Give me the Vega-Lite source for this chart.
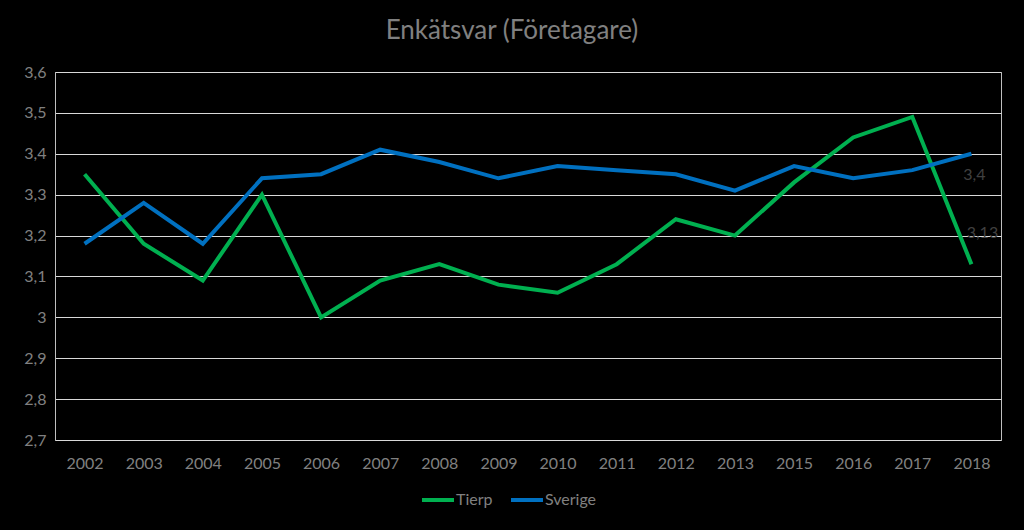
{
  "$schema": "https://vega.github.io/schema/vega-lite/v6.json",
  "autosize": {"type": "none"},
  "width": 946,
  "height": 368,
  "padding": {"left": 55, "top": 72, "right": 23, "bottom": 90},
  "background": "#000000",
  "config": {
    "locale": {"number": {"decimal": ",", "thousands": " ", "grouping": [3], "currency": ["", " kr"]}},
    "view": {"stroke": "#bfbfbf", "strokeWidth": 1},
    "font": "Lato"
  },
  "title": {
    "text": "Enkätsvar (Företagare)",
    "fontSize": 26,
    "font": "Lato",
    "fontWeight": "normal",
    "color": "#808080",
    "anchor": "middle",
    "dx": -16,
    "offset": 20
  },
  "data": {
    "values": [
      {"year": "2002", "serie": "Tierp", "value": 3.35},
      {"year": "2003", "serie": "Tierp", "value": 3.18},
      {"year": "2004", "serie": "Tierp", "value": 3.09},
      {"year": "2005", "serie": "Tierp", "value": 3.30},
      {"year": "2006", "serie": "Tierp", "value": 3.00},
      {"year": "2007", "serie": "Tierp", "value": 3.09},
      {"year": "2008", "serie": "Tierp", "value": 3.13},
      {"year": "2009", "serie": "Tierp", "value": 3.08},
      {"year": "2010", "serie": "Tierp", "value": 3.06},
      {"year": "2011", "serie": "Tierp", "value": 3.13},
      {"year": "2012", "serie": "Tierp", "value": 3.24},
      {"year": "2013", "serie": "Tierp", "value": 3.20},
      {"year": "2015", "serie": "Tierp", "value": 3.33},
      {"year": "2016", "serie": "Tierp", "value": 3.44},
      {"year": "2017", "serie": "Tierp", "value": 3.49},
      {"year": "2018", "serie": "Tierp", "value": 3.13},
      {"year": "2002", "serie": "Sverige", "value": 3.18},
      {"year": "2003", "serie": "Sverige", "value": 3.28},
      {"year": "2004", "serie": "Sverige", "value": 3.18},
      {"year": "2005", "serie": "Sverige", "value": 3.34},
      {"year": "2006", "serie": "Sverige", "value": 3.35},
      {"year": "2007", "serie": "Sverige", "value": 3.41},
      {"year": "2008", "serie": "Sverige", "value": 3.38},
      {"year": "2009", "serie": "Sverige", "value": 3.34},
      {"year": "2010", "serie": "Sverige", "value": 3.37},
      {"year": "2011", "serie": "Sverige", "value": 3.36},
      {"year": "2012", "serie": "Sverige", "value": 3.35},
      {"year": "2013", "serie": "Sverige", "value": 3.31},
      {"year": "2015", "serie": "Sverige", "value": 3.37},
      {"year": "2016", "serie": "Sverige", "value": 3.34},
      {"year": "2017", "serie": "Sverige", "value": 3.36},
      {"year": "2018", "serie": "Sverige", "value": 3.40}
    ]
  },
  "encoding": {
    "x": {
      "field": "year",
      "type": "ordinal",
      "scale": {"padding": 0.5},
      "axis": {
        "title": null,
        "labelAngle": 0,
        "labelFontSize": 16,
        "labelColor": "#808080",
        "labelFont": "Lato",
        "ticks": false,
        "domain": false,
        "grid": false,
        "labelPadding": 15
      }
    },
    "y": {
      "field": "value",
      "type": "quantitative",
      "scale": {"domain": [2.7, 3.6], "nice": false, "zero": false},
      "axis": {
        "title": null,
        "values": [2.7, 2.8, 2.9, 3.0, 3.1, 3.2, 3.3, 3.4, 3.5, 3.6],
        "format": ".1~f",
        "labelFontSize": 16,
        "labelColor": "#808080",
        "labelFont": "Lato",
        "ticks": false,
        "domain": true,
        "domainColor": "#bfbfbf",
        "gridColor": "#d9d9d9",
        "gridWidth": 1,
        "labelPadding": 9
      }
    }
  },
  "layer": [
    {
      "mark": {"type": "line", "strokeWidth": 4},
      "encoding": {
        "color": {
          "field": "serie",
          "type": "nominal",
          "scale": {"domain": ["Tierp", "Sverige"], "range": ["#00B050", "#0070C0"]},
          "legend": {
            "title": null,
            "orient": "none",
            "direction": "horizontal",
            "legendX": 365,
            "legendY": 410,
            "symbolType": "stroke",
            "symbolSize": 1024,
            "symbolStrokeWidth": 4,
            "labelFontSize": 16,
            "labelColor": "#808080",
            "labelFont": "Lato",
            "labelOffset": 0,
            "columnPadding": 10
          }
        }
      }
    },
    {
      "transform": [{"filter": "datum.serie === 'Tierp' && datum.year === '2018'"}],
      "mark": {"type": "text", "dx": 11, "dy": -31, "fontSize": 16, "color": "#404040", "font": "Lato"},
      "encoding": {"text": {"field": "value", "type": "quantitative", "format": ".2~f"}}
    },
    {
      "transform": [{"filter": "datum.serie === 'Sverige' && datum.year === '2018'"}],
      "mark": {"type": "text", "dx": 3, "dy": 21, "fontSize": 16, "color": "#404040", "font": "Lato"},
      "encoding": {"text": {"field": "value", "type": "quantitative", "format": ".2~f"}}
    }
  ]
}
